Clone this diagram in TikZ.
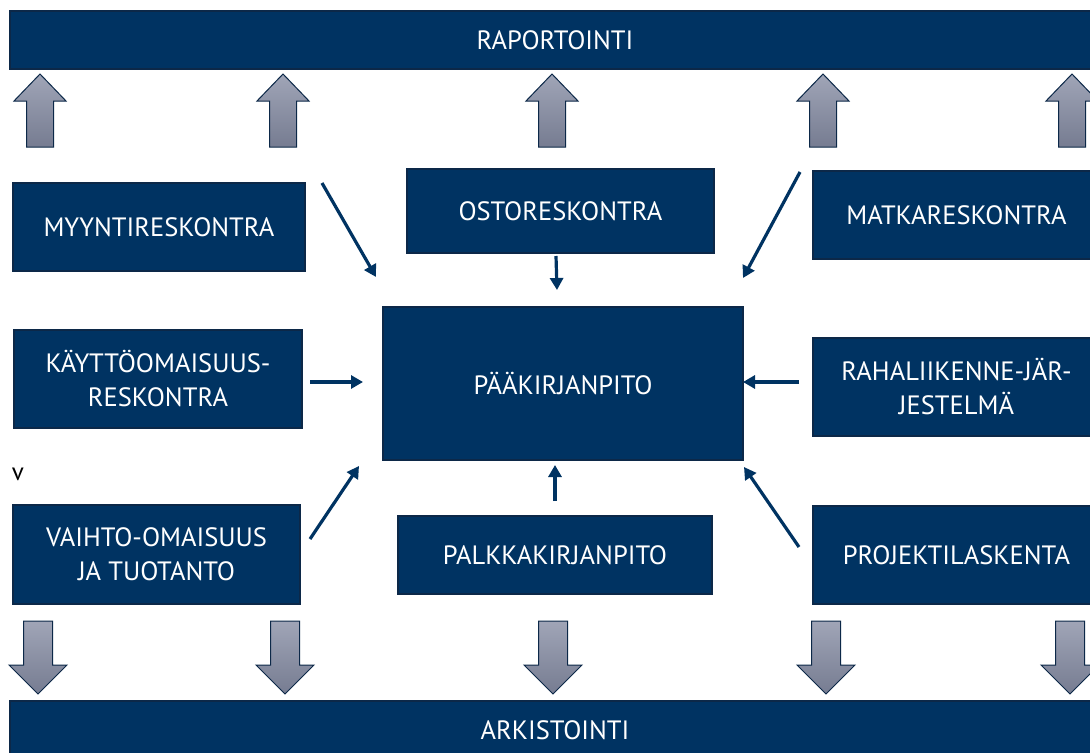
\documentclass[tikz,border=0pt]{standalone}
\usepackage{fontspec}
\setmainfont{PT Sans}
\usetikzlibrary{arrows.meta}
\definecolor{navy}{RGB}{0,51,98}
\definecolor{navyedge}{RGB}{12,40,72}
\definecolor{arrtop}{RGB}{160,165,183}
\definecolor{arrbot}{RGB}{118,124,145}
\tikzset{
  box/.style={draw=navyedge, line width=1.2bp, fill=navy, text=white, inner sep=0pt,
    align=center, font=\fontsize{26.5bp}{34bp}\selectfont},
  bar/.style={box},
  flow/.style={draw=navy, line width=3.2bp, -{Triangle[length=12bp,width=13bp]}},
  blockarrow/.style={draw=navyedge, line width=1bp, top color=arrtop, bottom color=arrbot},
  uparr/.pic={
    \path[blockarrow] (0,74) -- (26,101) -- (13.5,101) -- (13.5,147) -- (-13.5,147)
      -- (-13.5,101) -- (-26,101) -- cycle;
  },
  downarr/.pic={
    \path[blockarrow] (-14.5,621) -- (14.5,621) -- (14.5,665) -- (29,665) -- (0,694)
      -- (-29,665) -- (-14.5,665) -- cycle;
  }
}
\begin{document}
\begin{tikzpicture}[x=1bp, y=-1bp]
\useasboundingbox (0,0) rectangle (1090,753);
\clip (0,0) rectangle (1090,753);
\fill[white] (0,0) rectangle (1090,753);

% reporting and archiving bars
\node[bar, minimum width=1090bp, minimum height=58bp] (rap) at (555,40) {RAPORTOINTI};
\node[bar, minimum width=1090bp, minimum height=59bp] (ark) at (555,730.5) {ARKISTOINTI};

% block arrows up to reporting
\foreach \cx in {40,283,552,823,1072} \pic at (\cx,0) {uparr};
% block arrows down to archiving
\foreach \cx in {38,285,553,826,1070} \pic at (\cx,0) {downarr};

% ledgers
\node[box, minimum width=292bp, minimum height=88bp] (myynti) at (159,227) {MYYNTIRESKONTRA};
\node[box, minimum width=307bp, minimum height=84bp] (osto) at (560.5,211) {OSTORESKONTRA};
\node[box, minimum width=287bp, minimum height=88bp] (matka) at (956.5,215) {MATKARESKONTRA};
\node[box, minimum width=360bp, minimum height=153bp] (paa) at (563,383.5) {PÄÄKIRJANPITO};
\node[box, minimum width=288bp, minimum height=98bp] (kaytto) at (158,379) {KÄYTTÖOMAISUUS-\\RESKONTRA};
\node[box, minimum width=287bp, minimum height=98bp] (raha) at (956.5,387) {RAHALIIKENNE-JÄR-\\JESTELMÄ};
\node[box, minimum width=287bp, minimum height=99bp] (vaihto) at (156.5,554.5) {VAIHTO-OMAISUUS\\JA TUOTANTO};
\node[box, minimum width=314bp, minimum height=78bp] (palkka) at (555,555) {PALKKAKIRJANPITO};
\node[box, minimum width=287bp, minimum height=98bp] (projekti) at (956.5,555) {PROJEKTILASKENTA};

\node[font=\fontsize{25bp}{28bp}\selectfont, inner sep=0pt] (vmark) at (18,474) {v};

% connector end points
\coordinate (myyntiS) at (322,183);  \coordinate (myyntiE) at (376,277);
\coordinate (ostoS) at (556,256);    \coordinate (ostoE) at (557,290);
\coordinate (matkaS) at (800,172);   \coordinate (matkaE) at (743,278);
\coordinate (kayttoS) at (310,382);  \coordinate (kayttoE) at (363,382);
\coordinate (rahaS) at (799,382);    \coordinate (rahaE) at (743,382);
\coordinate (vaihtoS) at (310,539);  \coordinate (vaihtoE) at (359,466);
\coordinate (palkkaS) at (555,501);  \coordinate (palkkaE) at (555,465);
\coordinate (projS) at (799,547);    \coordinate (projE) at (744,467);

\draw[flow] (myyntiS) -- (myyntiE);
\draw[flow] (ostoS) -- (ostoE);
\draw[flow] (matkaS) -- (matkaE);
\draw[flow] (kayttoS) -- (kayttoE);
\draw[flow] (rahaS) -- (rahaE);
\draw[flow] (vaihtoS) -- (vaihtoE);
\draw[flow] (palkkaS) -- (palkkaE);
\draw[flow] (projS) -- (projE);
\end{tikzpicture}
\end{document}
